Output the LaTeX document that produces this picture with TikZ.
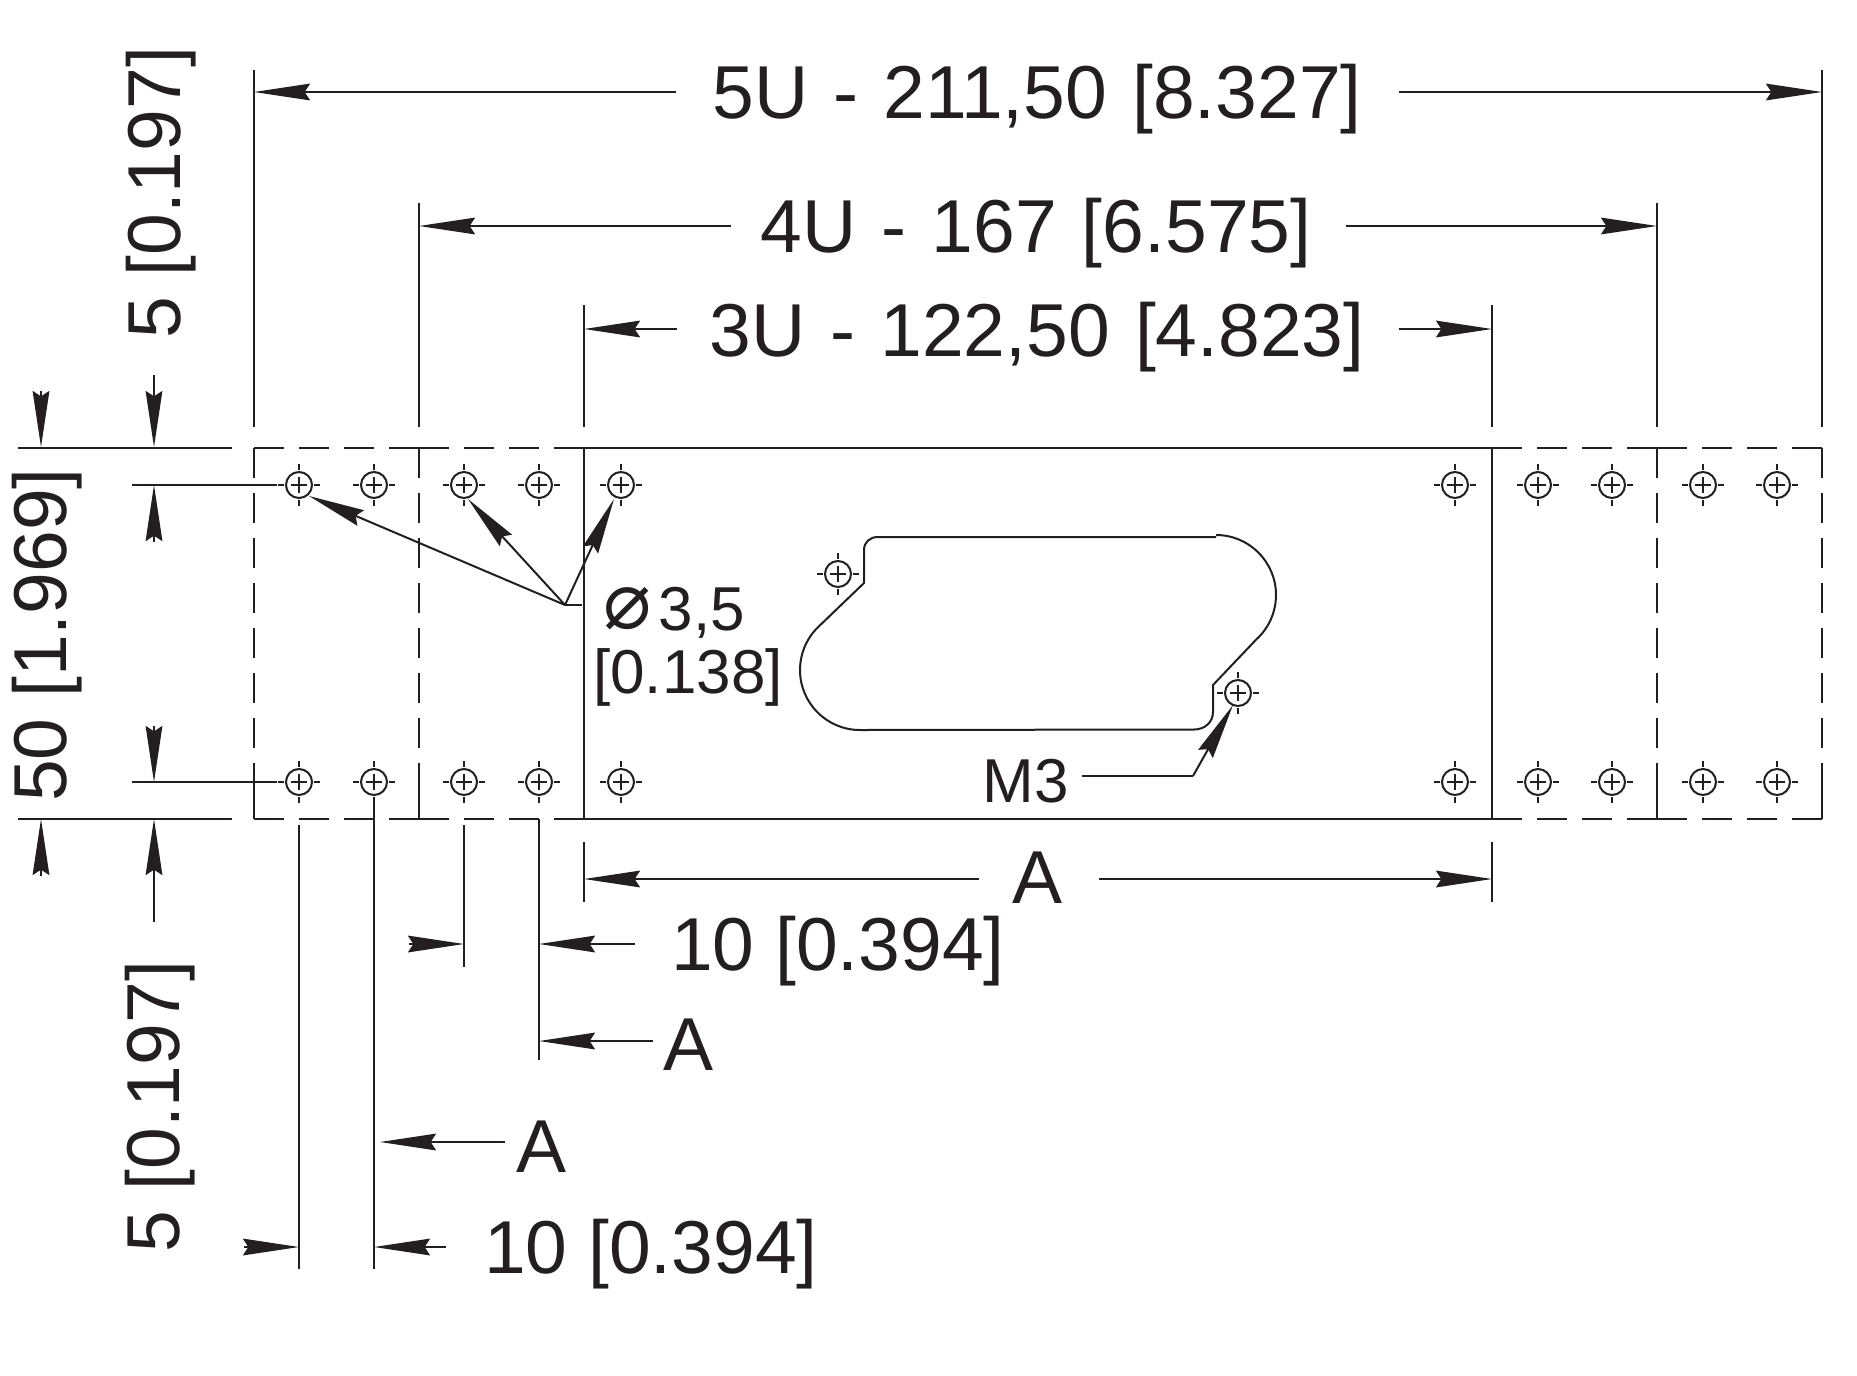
\documentclass[tikz,border=0pt]{standalone}
\usepackage{fontspec}
\setmainfont{Liberation Sans}
\newfontfamily\symfont{DejaVu Sans}
\usetikzlibrary{arrows.meta}
\definecolor{ink}{RGB}{35,31,32}
\newcommand\widesp{\spaceskip=.335em\relax}
\tikzset{
  ln/.style={draw=ink,line width=1.5pt},
  dsh/.style={ln,dash pattern=on 22.5pt off 11.25pt},
  arw/.style={ln,-{Stealth[length=42pt,width=12.5pt,inset=4pt]},shorten >=0pt},
  big/.style={inner sep=0pt,anchor=base,text=ink,font=\fontsize{56.25pt}{60pt}\selectfont},
  mid/.style={inner sep=0pt,anchor=base,text=ink,font=\fontsize{46.5pt}{50pt}\selectfont},
}
\newcommand\holemark[2]{%
  \draw[ln] (#1,#2) circle (13);
  \draw[ln,line width=1.3pt] (#1-8,#2)--(#1+8,#2) (#1,#2-8)--(#1,#2+8)
    (#1-21,#2)--(#1-15,#2) (#1+15,#2)--(#1+21,#2) (#1,#2-21)--(#1,#2-15) (#1,#2+15)--(#1,#2+21);
}
\begin{document}
\begin{tikzpicture}[x=0.75pt,y=-0.75pt]
\useasboundingbox (0,0) rectangle (1857,1375);
% plate outline
\foreach \a/\b in {254/419,419/584,1492/1657,1657/1822}{
  \draw[dsh] (\a,448)--(\b,448);
  \draw[dsh] (\a,819)--(\b,819);
}
\draw[ln] (584,448)--(1492,448) (584,819)--(1492,819);
\draw[ln] (584,448)--(584,819) (1492,448)--(1492,819);
\foreach \a in {254,419,1657,1822}{
  \draw[dsh] (\a,448)--(\a,793);
  \draw[ln] (\a,763)--(\a,819);
}
% holes
\foreach \hx in {299,374,464,539,621,1455,1538,1612,1703,1777}{
  \holemark{\hx}{485}
  \holemark{\hx}{782}
}
\holemark{838}{574}
\holemark{1238}{693}
% slot
\draw[ln] (878,537)--(1216,537) (1216,535) arc (-90:48:60) -- (1213,685) -- (1213,712)
  .. controls (1213,722) and (1205,729.5) .. (1194,729.5) -- (860,730) arc (90:228:60)
  -- (864,583) -- (864,550) .. controls (864,542) and (870,537) .. (878,537);
% extension lines
\draw[ln] (254,70)--(254,427) (419,203)--(419,427) (584,305)--(584,427)
  (1492,305)--(1492,427) (1657,203)--(1657,427) (1822,70)--(1822,427);
\draw[ln] (18,448)--(232,448) (18,819)--(232,819)
  (132,485)--(277,485) (132,782)--(277,782);
\draw[ln] (299,825)--(299,1269) (374,803)--(374,1269) (464,825)--(464,967)
  (539,819)--(539,1060) (584,842)--(584,902) (1492,842)--(1492,902);
% horizontal dimensions
\draw[arw] (676,92)--(254,92);
\draw[arw] (1399,92)--(1822,92);
\draw[arw] (731,226)--(419,226);
\draw[arw] (1346,226)--(1657,226);
\draw[arw] (677,329)--(584,329);
\draw[arw] (1399,329)--(1492,329);
\draw[arw] (979,879)--(584,879);
\draw[arw] (1099,879)--(1492,879);
\draw[arw] (409,944)--(464,944);
\draw[arw] (635,944)--(539,944);
\draw[arw] (653,1041)--(539,1041);
\draw[arw] (505,1142)--(380,1142);
\draw[arw] (244,1247)--(299,1247);
\draw[arw] (446,1247)--(374,1247);
% vertical dimensions
\draw[arw] (41,391)--(41,447);
\draw[arw] (154,375)--(154,447);
\draw[arw] (154,542)--(154,485);
\draw[arw] (154,726)--(154,782);
\draw[arw] (41,876)--(41,819);
\draw[arw] (154,922)--(154,819);
% leaders
\draw[ln] (582,605)--(565,605);
\draw[arw] (565,605)--(309,496);
\draw[arw] (565,605)--(468,499);
\draw[arw] (565,605)--(614,499);
\draw[ln] (1082,776)--(1193,776);
\draw[arw] (1193,776)--(1233,705);
% texts
\node[big] (t5u) at (1037,118) {\widesp 5U - 211,50 [8.327]};
\node[big] (t4u) at (1036,252) {\widesp 4U - 167 [6.575]};
\node[big] (t3u) at (1037,356) {\widesp 3U - 122,50 [4.823]};
\node[big] (tA1) at (1038,903) {A};
\node[big] (t10a) at (838,970) {10 [0.394]};
\node[big] (tA2) at (689,1070) {A};
\node[big] (tA3) at (542,1172) {A};
\node[big] (t10b) at (651,1273) {10 [0.394]};
\node[big,rotate=90] (tl1) at (180,193) {5 [0.197]};
\node[big,rotate=90] (tl2) at (66,635) {50 [1.969]};
\node[big,rotate=90] (tl3) at (179,1107) {5 [0.197]};
\node[mid] (tphi) at (702,630) {3,5};
\node[inner sep=0pt,anchor=base,text=ink,font=\symfont\fontsize{60pt}{60pt}\selectfont] (tdia) at (628,628) {⌀};
\node[mid] (tinch) at (688,693) {[0.138]};
\node[mid] (tm3) at (1026,802) {M3};
\end{tikzpicture}
\end{document}
